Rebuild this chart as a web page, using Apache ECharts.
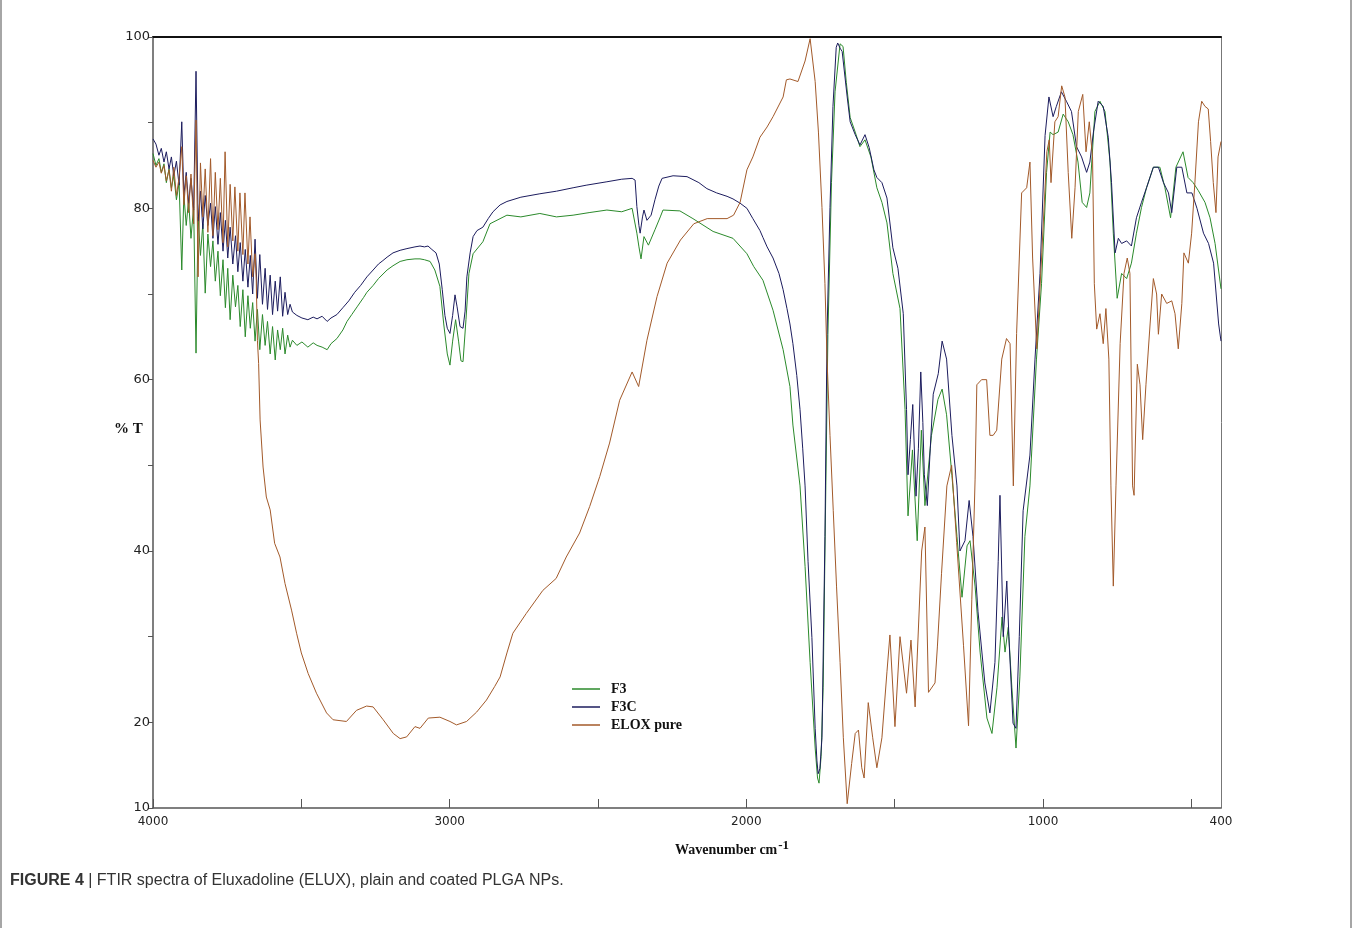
<!DOCTYPE html>
<html>
<head>
<meta charset="utf-8">
<title>FTIR spectra</title>
<script src="https://cdn.jsdelivr.net/npm/echarts@6/dist/echarts.min.js"></script>
<style>
  html, body { margin: 0; padding: 0; background: #fff; }
  #chart { width: 1357px; height: 928px; }
</style>
</head>
<body>
<div id="chart"></div>
<script>
// [wavenumber cm-1, %T]
const f3 = [
  [4000,86.4],[3990,85.0],[3980,85.8],[3972,84.2],[3963,85.2],[3955,83.0],[3946,84.6],[3938,82.4],[3930,83.8],[3921,81.0],
  [3912,83.0],[3903,72.8],[3896,81.6],[3888,78.0],[3880,81.0],[3872,76.5],[3863,80.2],[3855,63.1],[3848,79.0],[3840,74.5],
  [3832,78.2],[3824,70.1],[3815,77.0],[3806,73.2],[3798,76.2],[3790,71.5],[3781,75.0],[3773,69.8],[3764,74.0],[3756,68.4],
  [3748,73.0],[3740,67.0],[3731,72.2],[3722,68.5],[3714,71.0],[3706,66.2],[3697,70.5],[3689,65.0],[3680,69.8],[3672,66.0],
  [3664,69.0],[3656,64.5],[3648,68.2],[3640,63.5],[3631,67.6],[3622,64.0],[3614,66.8],[3605,63.0],[3597,66.2],[3588,62.3],
  [3580,65.8],[3571,63.5],[3563,66.0],[3555,63.0],[3546,65.2],[3538,63.8],
  [3530,64.6],[3515,64.0],[3498,64.4],[3478,63.8],[3460,64.3],[3447,64.0],[3430,63.8],[3413,63.5],[3400,64.2],[3380,64.8],
  [3360,65.8],[3346,66.8],[3330,67.6],[3312,68.5],[3290,69.6],[3279,70.2],[3258,71.0],[3240,71.8],[3211,72.8],[3191,73.3],
  [3167,73.8],[3144,74.0],[3117,74.1],[3100,74.1],[3085,74.0],[3066,73.8],[3050,72.8],[3033,70.9],[3020,66.5],[3008,63.0],
  [2999,61.7],[2990,64.5],[2980,67.0],[2970,64.5],[2962,62.2],[2955,62.1],[2945,67.0],[2935,72.4],[2921,74.7],[2888,76.1],
  [2864,78.2],[2807,79.2],[2760,79.0],[2696,79.4],[2640,79.0],[2584,79.2],[2530,79.5],[2470,79.8],[2420,79.6],[2385,80.0],
  [2369,77.1],[2362,75.5],[2355,74.1],[2345,76.7],[2330,75.7],[2308,77.5],[2290,79.0],[2281,79.8],[2224,79.7],[2180,78.8],
  [2112,77.3],[2045,76.5],[1998,74.7],[1975,73.2],[1944,71.6],[1910,68.1],[1876,63.5],[1853,59.2],[1843,54.7],[1819,47.6],
  [1802,38.2],[1785,27.0],[1768,17.0],[1760,13.5],[1755,12.9],[1748,16.0],[1741,24.1],[1732,47.6],[1725,65.3],[1713,83.0],
  [1701,93.6],[1684,99.2],[1674,98.9],[1663,94.7],[1650,90.6],[1633,88.9],[1617,87.2],[1600,88.0],[1580,86.0],[1560,82.4],
  [1543,80.7],[1526,78.3],[1506,72.4],[1482,68.3],[1465,56.5],[1455,44.1],[1440,51.8],[1424,41.2],[1410,54.1],[1398,45.3],
  [1376,53.5],[1354,57.7],[1340,58.9],[1325,55.9],[1307,48.8],[1290,41.7],[1273,34.6],[1256,40.6],[1246,41.2],[1229,35.9],
  [1212,28.2],[1189,20.5],[1172,18.7],[1155,24.1],[1138,32.3],[1128,28.2],[1117,31.1],[1105,24.1],[1091,17.0],[1078,25.3],
  [1061,41.7],[1044,47.6],[1022,62.4],[1005,71.2],[988,84.2],[976,88.9],[966,88.6],[949,88.9],[932,91.0],[915,90.1],
  [899,88.6],[882,85.4],[868,80.7],[853,80.1],[842,81.8],[825,91.3],[808,92.5],[791,91.3],[774,85.4],[763,77.1],
  [750,69.5],[735,72.4],[718,71.8],[702,73.6],[685,77.1],[668,80.1],[651,82.4],[628,84.8],[606,84.8],[589,82.4],
  [570,78.9],[552,84.8],[528,86.6],[511,83.6],[494,83.0],[477,82.1],[454,80.7],[437,78.9],[420,75.9],[400,70.6]
];

const f3c = [
  [4000,88.1],[3990,87.5],[3980,86.2],[3972,87.0],[3963,85.4],[3955,86.6],[3946,84.6],[3938,86.0],[3930,83.8],[3921,85.5],
  [3912,82.7],[3903,90.1],[3896,81.5],[3888,84.2],[3880,80.6],[3872,83.5],[3863,79.8],[3855,96.0],[3848,78.5],[3840,82.0],
  [3832,77.6],[3824,81.5],[3815,78.0],[3806,80.6],[3798,76.5],[3790,80.2],[3781,75.8],[3773,79.5],[3764,75.0],[3756,78.6],
  [3748,74.2],[3740,77.8],[3731,73.5],[3722,76.8],[3714,72.6],[3706,76.0],[3697,71.5],[3689,75.2],[3680,70.8],[3672,74.5],
  [3664,70.0],[3656,76.4],[3648,69.5],[3640,74.6],[3631,68.8],[3622,73.0],[3614,68.2],[3605,72.2],[3597,67.6],[3588,71.5],
  [3580,68.0],[3571,72.0],[3563,67.4],[3555,70.2],[3546,67.6],[3538,68.8],
  [3530,67.9],[3515,67.5],[3498,67.2],[3478,67.0],[3460,67.3],[3447,67.1],[3430,67.4],[3413,66.8],[3400,67.2],[3380,67.6],
  [3360,68.4],[3340,69.2],[3320,70.2],[3300,71.0],[3279,72.0],[3258,72.8],[3240,73.5],[3225,73.9],[3211,74.3],[3191,74.8],
  [3167,75.1],[3144,75.3],[3117,75.5],[3100,75.6],[3085,75.5],[3073,75.6],[3060,75.2],[3046,74.8],[3035,73.5],[3025,70.5],
  [3016,67.5],[3008,66.0],[2999,65.4],[2990,67.5],[2982,69.9],[2975,68.5],[2965,66.2],[2955,66.0],[2948,68.0],[2942,72.0],
  [2931,74.8],[2921,76.7],[2908,77.4],[2888,77.8],[2870,78.8],[2854,79.6],[2830,80.4],[2807,80.8],[2760,81.3],[2696,81.7],
  [2640,82.0],[2584,82.4],[2540,82.7],[2470,83.1],[2420,83.4],[2385,83.5],[2375,83.3],[2369,80.2],[2362,78.0],[2358,77.1],
  [2350,79.0],[2345,79.8],[2335,78.6],[2321,79.2],[2308,81.0],[2295,82.6],[2284,83.5],[2247,83.8],[2200,83.7],[2160,83.0],
  [2133,82.3],[2100,81.8],[2065,81.4],[2045,81.1],[2021,80.6],[1998,80.0],[1978,78.8],[1954,77.4],[1944,76.6],[1930,75.5],
  [1910,74.2],[1890,72.4],[1876,70.5],[1863,68.3],[1853,66.5],[1843,64.2],[1830,60.5],[1819,56.5],[1810,52.0],[1802,47.6],
  [1792,38.8],[1779,29.9],[1768,19.3],[1762,15.5],[1758,14.0],[1752,14.6],[1745,18.2],[1735,41.7],[1728,65.3],[1718,80.1],
  [1708,91.9],[1697,98.8],[1692,99.3],[1684,98.7],[1677,98.3],[1660,93.0],[1650,90.1],[1633,88.6],[1617,87.4],[1600,88.6],
  [1586,87.1],[1570,84.5],[1560,83.6],[1543,83.0],[1526,81.2],[1506,75.4],[1489,73.0],[1471,67.7],[1460,56.5],[1455,48.9],
  [1447,53.0],[1439,57.1],[1428,46.4],[1420,52.0],[1412,60.9],[1405,55.0],[1400,48.9],[1390,45.3],[1380,52.0],[1370,58.3],
  [1353,60.7],[1340,64.5],[1325,62.4],[1307,53.5],[1290,47.6],[1280,40.0],[1263,41.2],[1249,45.9],[1236,41.7],[1219,32.9],
  [1196,24.6],[1179,21.1],[1162,27.0],[1151,38.8],[1145,46.5],[1134,30.0],[1122,36.5],[1115,30.0],[1101,19.9],[1091,19.3],
  [1080,30.0],[1067,44.7],[1044,51.2],[1027,62.4],[1010,72.4],[993,88.5],[980,93.0],[966,90.7],[955,91.9],[938,93.6],
  [921,92.5],[904,91.3],[887,87.2],[870,86.0],[853,84.2],[842,85.4],[830,88.9],[814,92.5],[797,91.9],[780,88.3],
  [769,83.0],[757,74.8],[746,76.5],[735,75.9],[718,76.2],[702,75.6],[685,78.9],[668,80.7],[651,82.4],[628,84.8],
  [611,84.8],[594,83.0],[577,81.8],[566,79.5],[549,84.8],[532,84.8],[515,81.8],[498,81.8],[481,80.0],[459,77.1],
  [442,75.9],[425,73.6],[408,66.5],[400,64.5]
];

const eloxPure = [
  [4000,85.6],[3990,84.8],[3980,85.4],[3972,84.1],[3963,85.0],[3955,83.2],[3946,84.5],[3938,82.0],[3930,84.8],[3921,81.5],
  [3912,83.6],[3903,87.2],[3896,80.4],[3888,83.8],[3880,79.5],[3872,84.0],[3863,78.2],[3855,90.3],[3848,72.0],[3840,85.3],
  [3832,79.0],[3824,84.6],[3815,77.2],[3806,85.8],[3798,76.8],[3790,84.2],[3781,77.5],[3773,83.5],[3764,76.0],[3757,86.6],
  [3748,75.5],[3740,82.8],[3731,76.2],[3724,82.5],[3714,75.0],[3707,81.8],[3697,74.6],[3690,81.8],[3680,73.5],[3673,79.0],
  [3664,72.0],[3656,74.7],[3652,71.6],[3648,64.6],[3644,61.9],[3639,55.3],[3629,49.8],[3618,46.3],[3605,44.8],[3590,40.9],
  [3572,39.3],[3555,36.2],[3533,33.1],[3516,30.4],[3500,28.1],[3477,25.7],[3449,23.4],[3415,21.1],[3393,20.3],[3348,20.1],
  [3314,21.4],[3280,21.9],[3258,21.8],[3224,20.3],[3190,18.7],[3167,18.1],[3145,18.3],[3117,19.5],[3100,19.3],[3072,20.5],
  [3033,20.6],[2999,20.1],[2977,19.7],[2943,20.1],[2909,21.2],[2876,22.6],[2848,24.2],[2830,25.3],[2807,28.1],[2787,30.4],
  [2742,32.7],[2686,35.4],[2641,36.8],[2607,39.3],[2562,42.1],[2528,45.2],[2494,48.7],[2461,52.6],[2427,57.6],[2385,60.9],
  [2363,59.2],[2335,64.6],[2301,69.7],[2267,73.6],[2222,76.3],[2177,78.2],[2132,78.8],[2065,78.8],[2043,79.2],[2021,80.7],
  [1998,84.5],[1978,86.0],[1954,88.3],[1930,89.5],[1910,90.7],[1876,93.0],[1865,95.0],[1853,95.1],[1826,94.8],[1802,97.2],
  [1785,99.8],[1768,94.8],[1757,88.9],[1745,80.1],[1735,71.2],[1728,62.4],[1718,53.5],[1707,44.7],[1696,35.9],[1684,27.0],
  [1673,18.2],[1660,10.5],[1645,15.2],[1633,18.7],[1622,19.1],[1611,14.7],[1603,13.5],[1589,22.3],[1574,18.2],[1560,14.7],
  [1543,18.2],[1526,25.9],[1516,30.2],[1499,19.5],[1482,30.0],[1460,23.4],[1445,29.6],[1431,21.8],[1409,40.0],[1398,42.8],
  [1386,23.5],[1364,24.6],[1356,28.8],[1342,37.4],[1324,47.6],[1308,50.0],[1291,41.0],[1268,29.0],[1251,19.6],[1240,34.3],
  [1229,48.3],[1223,59.4],[1207,60.0],[1190,60.0],[1179,53.5],[1168,53.5],[1156,54.1],[1139,62.4],[1123,64.8],[1111,64.2],
  [1100,47.6],[1089,65.4],[1072,81.8],[1055,82.4],[1044,85.4],[1035,74.2],[1021,63.6],[1004,74.8],[987,86.6],[979,88.0],
  [973,83.0],[960,90.1],[949,90.7],[937,94.3],[926,93.0],[915,84.2],[903,76.5],[892,82.4],[881,91.3],[866,93.3],
  [855,86.6],[844,90.1],[833,86.0],[827,71.2],[819,65.9],[808,67.7],[797,64.2],[788,68.3],[778,62.4],[771,47.6],
  [763,35.9],[754,47.6],[740,64.2],[727,72.4],[716,74.2],[707,72.4],[698,47.6],[693,46.5],[682,61.8],[673,59.4],
  [664,53.0],[653,59.4],[639,66.5],[628,71.8],[617,70.0],[611,65.3],[600,70.0],[583,68.9],[566,69.2],[555,67.7],
  [544,63.6],[532,68.9],[525,74.8],[510,73.6],[499,77.1],[488,83.0],[476,90.1],[465,92.5],[454,91.9],[443,91.6],
  [435,87.8],[426,83.0],[417,79.5],[410,86.0],[400,87.8]
];

const seriesNames = ['F3', 'F3C', 'ELOX pure'];
const xTicks = [500, 1000, 1500, 2000, 2500, 3000, 3500, 4000];
const xLabels = [400, 1000, 2000, 3000, 4000];
const yTicks = [10, 20, 30, 40, 50, 60, 70, 80, 90, 100];
const yLabels = [10, 20, 40, 60, 80, 100];

const chart = echarts.init(document.getElementById('chart'), null, { renderer: 'canvas' });

const lineSeries = (name, data, color) => ({
  name,
  type: 'line',
  data,
  symbol: 'none',
  lineStyle: { width: 1, color },
  itemStyle: { color },
  silent: true,
  animation: false,
});

chart.setOption({
  animation: false,
  backgroundColor: '#fff',
  grid: { left: 153, right: 136, top: 37, bottom: 120 },
  legend: {
    orient: 'vertical',
    left: 567,
    top: 677,
    icon: 'rect',
    itemWidth: 28,
    itemHeight: 1.5,
    itemGap: 4,
    data: seriesNames,
    textStyle: {
      fontFamily: 'Liberation Serif',
      fontWeight: 'bold',
      fontSize: 14,
      lineHeight: 14,
      color: '#111',
      padding: [0, 0, 0, 6],
    },
  },
  xAxis: [
    {
      type: 'value',
      min: 400,
      max: 4000,
      inverse: true,
      position: 'bottom',
      splitLine: { show: false },
      axisLine: { lineStyle: { color: '#555', width: 1.5 } },
      axisTick: { inside: true, length: 9, customValues: xTicks, lineStyle: { color: '#555' } },
      axisLabel: {
        customValues: xLabels,
        formatter: v => String(v),
        margin: 8,
        fontFamily: 'DejaVu Sans',
        fontSize: 12,
        color: '#222',
      },
    },
    {
      type: 'value',
      min: 400,
      max: 4000,
      inverse: true,
      position: 'top',
      splitLine: { show: false },
      axisLine: { lineStyle: { color: '#111', width: 2 } },
      axisTick: { show: false },
      axisLabel: { show: false },
    },
  ],
  yAxis: [
    {
      type: 'value',
      min: 10,
      max: 100,
      position: 'left',
      splitLine: { show: false },
      axisLine: { show: true, lineStyle: { color: '#555', width: 1.5 } },
      axisTick: { show: true, length: 5, customValues: yTicks, lineStyle: { color: '#555' } },
      axisLabel: {
        customValues: yLabels,
        formatter: v => String(v),
        margin: 3,
        fontFamily: 'DejaVu Sans',
        fontSize: 13,
        color: '#222',
      },
    },
    {
      type: 'value',
      min: 10,
      max: 100,
      position: 'right',
      splitLine: { show: false },
      axisLine: { show: true, lineStyle: { color: '#777', width: 1 } },
      axisTick: { show: false },
      axisLabel: { show: false },
    },
  ],
  series: [
    lineSeries('F3', f3, '#2b8a2b'),
    lineSeries('F3C', f3c, '#1c1c5e'),
    lineSeries('ELOX pure', eloxPure, '#a35a2a'),
  ],
  graphic: [
    {
      type: 'text',
      left: 114,
      top: 422,
      style: { text: '% T', font: 'bold 15px "Liberation Serif"', fill: '#111' },
    },
    {
      type: 'text',
      left: 675,
      top: 839,
      style: {
        text: 'Wavenumber cm{sup|-1}',
        font: 'bold 14px "Liberation Serif"',
        fill: '#111',
        rich: {
          sup: { font: 'bold 13px "Liberation Serif"', fill: '#111', verticalAlign: 'top', padding: [0, 0, 10, 1] },
        },
      },
    },
    {
      type: 'text',
      left: 10,
      top: 873,
      style: {
        text: '{b|FIGURE 4} | FTIR spectra of Eluxadoline (ELUX), plain and coated PLGA NPs.',
        font: '16px "Liberation Sans"',
        fill: '#333',
        rich: {
          b: { font: 'bold 16px "Liberation Sans"', fill: '#333' },
        },
      },
    },
    {
      type: 'line',
      shape: { x1: 1, y1: 0, x2: 1, y2: 928 },
      style: { stroke: '#888', lineWidth: 1.5 },
    },
    {
      type: 'line',
      shape: { x1: 1351, y1: 0, x2: 1351, y2: 928 },
      style: { stroke: '#888', lineWidth: 1.5 },
    },
  ],
});
</script>
</body>
</html>
